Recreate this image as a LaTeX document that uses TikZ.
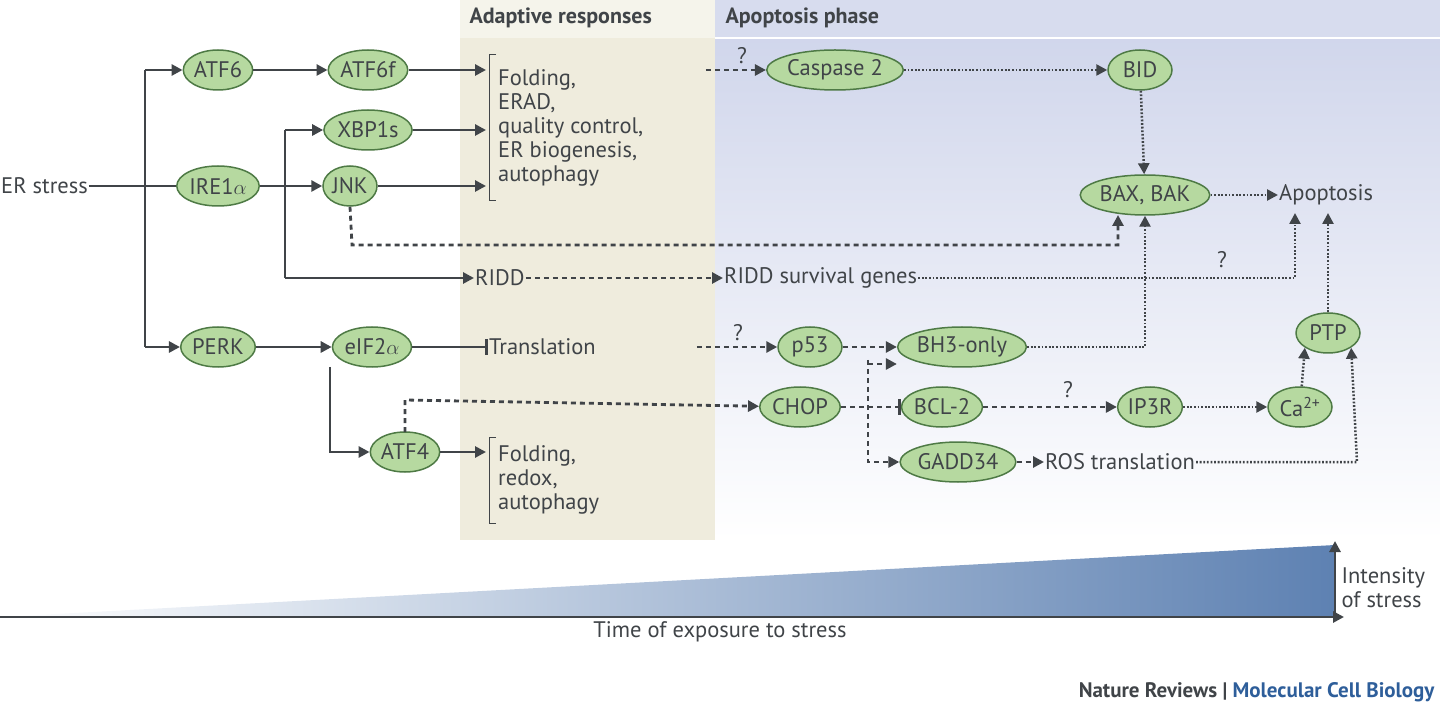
\documentclass[tikz,border=0pt]{standalone}
\usepackage{fontspec}
\setmainfont{PT Sans}
\usetikzlibrary{arrows.meta,calc,shapes.geometric}
\definecolor{beige}{HTML}{EFECDD}
\definecolor{lav}{HTML}{CDD3EA}
\definecolor{gfill}{HTML}{B6D9A0}
\definecolor{gline}{HTML}{4E7A45}
\definecolor{ink}{HTML}{404448}
\definecolor{nblue}{HTML}{2E5E9A}
\begin{document}
\begin{tikzpicture}[x=1pt,y=-1pt,
  every node/.style={font=\fontsize{22.5}{26}\selectfont,text=ink},
  g/.style={ellipse,draw=gline,line width=1.5pt,fill=gfill,inner sep=0.5pt,minimum height=40,minimum width=64},
  sol/.style={draw=ink,line width=2.8pt,-{Triangle[length=11pt,width=11pt]}},
  dsh/.style={draw=ink,line width=2.8pt,dash pattern=on 5pt off 4pt,-{Triangle[length=11pt,width=11pt]}},
  dot/.style={draw=ink,line width=2.5pt,dash pattern=on 1.8pt off 1.8pt,-{Triangle[length=11pt,width=11pt]}},
  lt/.style={align=left,anchor=west,inner sep=0pt}]
\useasboundingbox (0,0) rectangle (1440,708);
% panels
\fill[beige] (460,0) rectangle (715,540);
\fill[beige!60!white] (460,0) rectangle (715,38);
\shade[top color=lav,bottom color=white] (715,0) rectangle (1440,540);
\fill[lav!80!white] (715,0) rectangle (1440,38);
\draw[white,line width=2pt] (715,38) -- (1440,38);
\node[font=\fontsize{22}{25}\selectfont\bfseries,anchor=west] (h1) at (466,18) {Adaptive responses};
\node[font=\fontsize{22}{25}\selectfont\bfseries,anchor=west] (h2) at (722,18) {Apoptosis phase};
% nodes
\node[g] (atf6) at (218,70) {ATF6};
\node[g] (atf6f) at (368,70) {ATF6f};
\node[g] (xbp) at (368,130) {XBP1s};
\node[g] (ire) at (218,186) {IRE1$\alpha$};
\node[g,minimum width=54] (jnk) at (350,186) {JNK};
\node[g] (perk) at (218,347) {PERK};
\node[g] (eif) at (372,347) {eIF2$\alpha$};
\node[g] (atf4) at (405,452) {ATF4};
\node[g] (casp) at (835,70) {Caspase 2};
\node[g] (bid) at (1140,70) {BID};
\node[g] (bax) at (1145,195) {BAX, BAK};
\node[g] (p53) at (810,347) {p53};
\node[g] (bh3) at (962,347) {BH3-only};
\node[g] (chop) at (800,407) {CHOP};
\node[g] (bcl) at (942,407) {BCL-2};
\node[g] (ip3r) at (1150,407) {IP3R};
\node[g] (ca) at (1300,407) {Ca\textsuperscript{2+}};
\node[g] (ptp) at (1328,333) {PTP};
\node[g] (gadd) at (958,462) {GADD34};
% texts
\node[anchor=west,inner sep=1pt] (er) at (0,186) {ER stress};
\node[lt] (list1) at (498,128) {Folding,\\[-2pt]ERAD,\\[-2pt]quality control,\\[-2pt]ER biogenesis,\\[-2pt]autophagy};
\draw[ink,line width=1pt] (496,55) -- (489,55) -- (489,201) -- (496,201);
\node[lt] (list2) at (498,480) {Folding,\\[-2pt]redox,\\[-2pt]autophagy};
\draw[ink,line width=1pt] (496,437) -- (489,437) -- (489,523) -- (496,523);
\node[anchor=west,inner sep=1pt] (ridd) at (474,278) {RIDD};
\node[anchor=west,inner sep=1pt] (rsg) at (723,278) {RIDD survival genes};
\node[anchor=west,inner sep=1pt] (trans) at (488,347) {Translation};
\node[anchor=west,inner sep=1pt] (rost) at (1044,462) {ROS translation};
\node[anchor=west,inner sep=1pt] (apo) at (1278,195) {Apoptosis};
% solid arrows
\coordinate (t1) at (145,70); \coordinate (t3) at (145,347);
\draw[ink,line width=2.8pt] (er.east) -- (ire.west);
\draw[ink,line width=2.8pt] (t1) -- (t3);
\draw[sol] (t1) -- (atf6);
\draw[sol] (t3) -- (perk);
\draw[sol] (ire) -- (jnk);
\draw[sol] (atf6) -- (atf6f);
\draw[sol] (atf6f) -- (486,70);
\draw[sol] (xbp) -- (486,130);
\draw[sol] (jnk) -- (486,186);
\coordinate (t2a) at (285,130); \coordinate (t2b) at (285,278);
\draw[ink,line width=2.8pt] (t2a) -- (t2b);
\draw[sol] (t2a) -- (xbp);
\draw[sol] (t2b) -- (ridd.west);
\draw[sol] (perk) -- (eif);
\draw[ink,line width=2.8pt,-{Bar[width=16pt]}] (eif) -- (trans.west);
\draw[sol] (330,367) -- (330,452) -- (atf4);
\draw[sol] (atf4) -- (486,452);
% dashed
\draw[dsh] (casp.west) ++(-60,0) coordinate (cq) -- (casp);
\node at (742,56) {?};
\draw[dsh] (ridd) -- (rsg);
\draw[dsh] (jnk.south) -- (352,245) -- (1118,245) -- (1118,215);
\draw[dsh] (405,432) -- (405,400) -- (chop);
\draw[dsh] (trans.east) ++(100,0) -- (p53);
\node at (738,333) {?};
\draw[dsh] (p53) -- (bh3);
\draw[dsh] (868,360) -- (868,462) -- (gadd);
\draw[dsh] (868,364) -- (bh3.west|-0,364);
\draw[ink,line width=2.8pt,dash pattern=on 5pt off 4pt,-{Bar[width=16pt]}] (chop) -- (bcl);
\draw[dsh] (bcl) -- (ip3r);
\node at (1068,390) {?};
\draw[dsh] (gadd) -- (rost);
% dotted
\draw[dot] (casp) -- (bid);
\draw[dot] (bid) -- (bax);
\draw[dot] (bax) -- (apo);
\draw[dot] (bh3) -- (1145,347) -- (bax);
\draw[dot] (rsg) -- (1295,278) -- (1295,213);
\node at (1222,260) {?};
\draw[dot] (ptp) -- (1328,213);
\draw[dot] (ip3r) -- (ca);
\draw[dot] (ca) -- (ptp.south west);
\draw[dot] (rost) -- (1357,462) -- (ptp.south east);
% bottom wedge
\shade[left color=white,right color=nblue!70!lav] (0,617) -- (1335,617) -- (1335,545) -- cycle;
\coordinate (o) at (0,617); \coordinate (xe) at (1344,617); \coordinate (ye) at (1335,541);
\draw[sol] (o) -- (xe);
\draw[sol] (1335,617) -- (ye);
\node[align=left,anchor=west] (int) at (1338,588) {Intensity\\[-2pt]of stress};
\node (time) at (720,632) {Time of exposure to stress};
\node[anchor=east,font=\fontsize{21}{24}\selectfont\bfseries] (nr) at (1438,692) {Nature Reviews | \textcolor{nblue}{Molecular Cell Biology}};
\end{tikzpicture}
\end{document}
